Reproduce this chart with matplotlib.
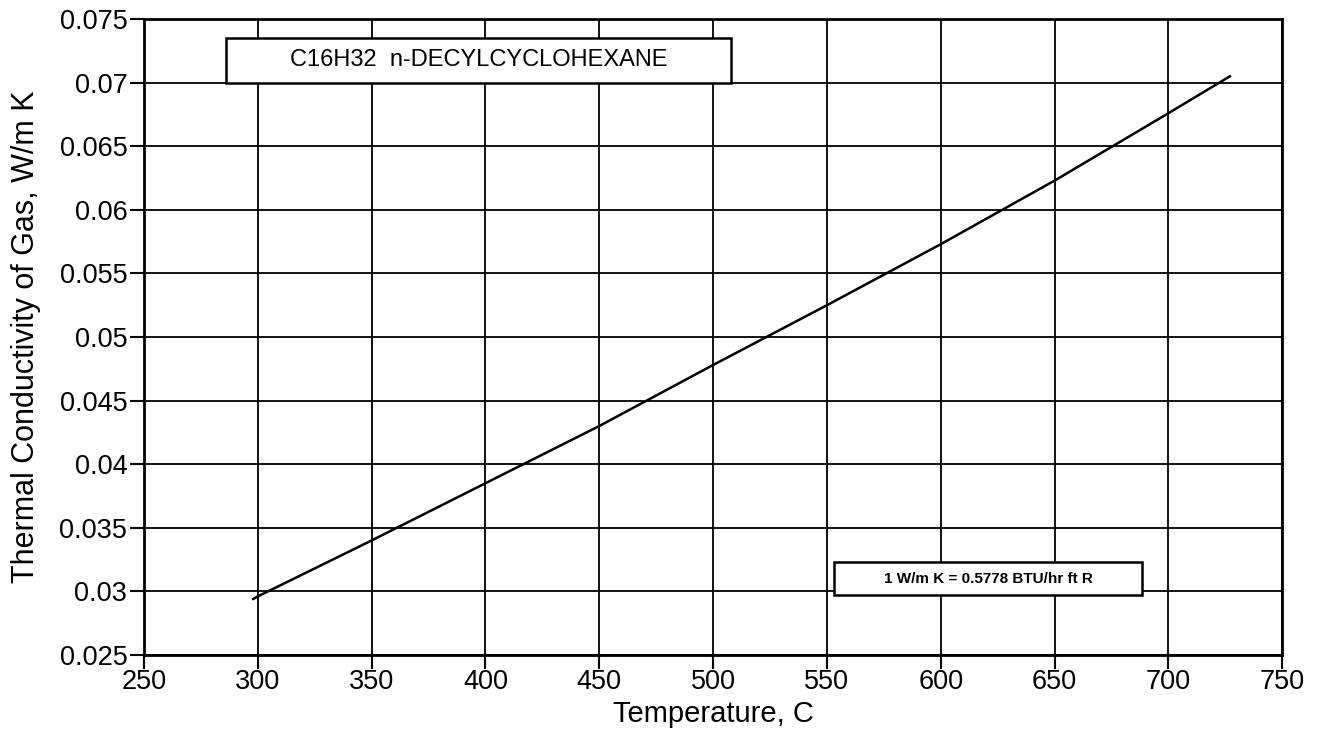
import matplotlib
matplotlib.use("Agg")
import matplotlib.pyplot as plt
from matplotlib.ticker import FuncFormatter

plt.rcParams['font.family'] = ['Liberation Sans', 'DejaVu Sans']

# data
temp_c = [298, 300, 350, 400, 450, 500, 550, 600, 650, 700, 727]
k_gas = [0.0294, 0.0296, 0.0340, 0.0385, 0.0430, 0.0478, 0.0525,
         0.0573, 0.0623, 0.0676, 0.0705]

x_ticks = list(range(250, 751, 50))
y_ticks = [0.025, 0.03, 0.035, 0.04, 0.045, 0.05, 0.055, 0.06, 0.065, 0.07, 0.075]

title_text = "C16H32  n-DECYLCYCLOHEXANE"
unit_text = "1 W/m K = 0.5778 BTU/hr ft R"

fig = plt.figure(figsize=(13.26, 7.35), dpi=100)
ax = fig.add_axes([0.1086, 0.109, 0.8584, 0.865])

ax.plot(temp_c, k_gas, color='black', linewidth=1.8)

ax.set_xlim(250, 750)
ax.set_ylim(0.025, 0.075)
ax.set_xticks(x_ticks)
ax.set_yticks(y_ticks)
ax.yaxis.set_major_formatter(FuncFormatter(lambda v, p: "%g" % round(v, 4)))
ax.grid(True, color='black', linewidth=1.3)
ax.tick_params(axis='both', direction='out', length=10, width=1.5,
               labelsize=19.5, colors='black')
ax.tick_params(axis='x', pad=0)
ax.tick_params(axis='y', pad=2)
for s in ax.spines.values():
    s.set_linewidth(2)

ax.set_xlabel("Temperature, C", fontsize=21, labelpad=4)
ax.set_ylabel("Thermal Conductivity of Gas, W/m K", fontsize=22, labelpad=13)

# label boxes
ax.add_patch(plt.Rectangle((286, 0.0700), 222, 0.0035, facecolor='white',
                           edgecolor='black', linewidth=1.8, zorder=3))
ax.text(397, 0.07175, title_text, ha='center', va='center', fontsize=17, zorder=4)

ax.add_patch(plt.Rectangle((553, 0.0297), 135.5, 0.0026, facecolor='white',
                           edgecolor='black', linewidth=1.8, zorder=3))
ax.text(620.75, 0.0310, unit_text, ha='center', va='center', fontsize=11,
        fontweight='bold', zorder=4)

fig.savefig("out.png", dpi=100)
